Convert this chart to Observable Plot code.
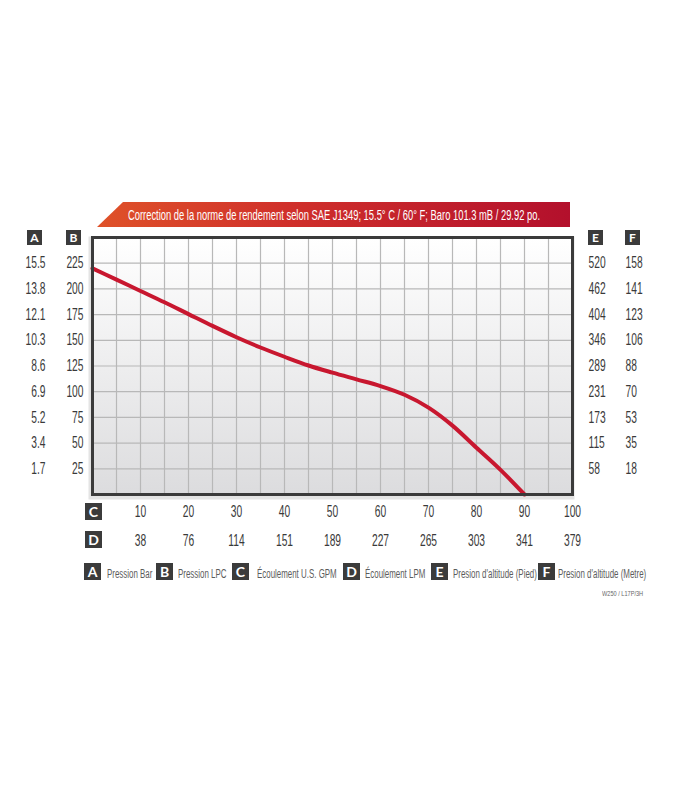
<!DOCTYPE html>
<html>
<head>
<meta charset="utf-8">
<script src="https://cdn.jsdelivr.net/npm/d3@7"></script>
<script src="https://cdn.jsdelivr.net/npm/@observablehq/plot@0.6"></script>
<style>
  html, body { margin: 0; padding: 0; background: #fff; }
  body { width: 700px; height: 800px; position: relative; overflow: hidden; font-family: "Liberation Sans", Arial, sans-serif; }
  #chart { position: absolute; left: 0; top: 0; }
  .banner { position: absolute; left: 97px; top: 202px; width: 473px; height: 25px;
    clip-path: polygon(26px 0, 100% 0, 100% 100%, 0 100%);
    background: linear-gradient(to right, #df5229 0%, #d0302b 40%, #b3102c 100%); }
  .banner span { position: absolute; left: 50%; top: 50%; white-space: nowrap; color: #fff;
    font-size: 14px; line-height: 14px; }
  .key { position: absolute; background: #3b3b3b; color: #fff; font-family: Lato, "Open Sans", sans-serif;
    font-weight: 700; text-align: center; }
  .key.small { width: 15px; height: 15px; line-height: 15px; font-size: 12px; }
  .key.big { width: 17px; height: 17px; line-height: 17px; font-size: 14px; }
  .legtext { position: absolute; top: 568px; font-size: 12px; line-height: 12px; color: #5c5c5c;
    white-space: nowrap; transform-origin: 0 0; transform: scaleX(0.66); }
  .code { position: absolute; top: 590px; left: 643px; font-size: 8px; line-height: 8px; color: #666;
    white-space: nowrap; transform-origin: 100% 0; transform: translateX(-100%) scaleX(0.7); transform-origin: 0 0; }
</style>
</head>
<body>
<div id="chart"></div>
<script>
// ---- data ----
const flowGPM     = [0, 5, 10, 15, 20, 25, 30, 35, 40, 45, 50, 55, 60, 65, 70, 75, 80, 85, 90];
const pressurePSI = [220, 209, 198, 187, 175.5, 164, 153, 143, 134, 125.5, 118.5, 112, 105.5, 97, 84.5, 67, 45.5, 24, 0];

const psiTicks    = [25, 50, 75, 100, 125, 150, 175, 200, 225];          // B : Pression LPC
const barLabels   = ["1.7", "3.4", "5.2", "6.9", "8.6", "10.3", "12.1", "13.8", "15.5"]; // A
const altFtLabels = ["58", "115", "173", "231", "289", "346", "404", "462", "520"];      // E
const altMLabels  = ["18", "35", "53", "70", "88", "106", "123", "141", "158"];         // F
const gpmTicks    = [10, 20, 30, 40, 50, 60, 70, 80, 90, 100];           // C
const lpmLabels   = ["38", "76", "114", "151", "189", "227", "265", "303", "341", "379"]; // D
const gridGPM     = [5, 10, 15, 20, 25, 30, 35, 40, 45, 50, 55, 60, 65, 70, 75, 80, 85, 90, 95];
const gridPSI     = [25, 50, 75, 100, 125, 150, 175, 200, 225];

const title = "Correction de la norme de rendement selon SAE J1349;  15.5° C  / 60° F;  Baro 101.3 mB / 29.92 po.";
const legendKeys  = ["A", "B", "C", "D", "E", "F"];
const legendNames = ["Pression Bar", "Pression LPC", "Écoulement U.S. GPM", "Écoulement LPM", "Presion d'altitude (Pied)", "Presion d'altitude (Metre)"];
const modelCode = "W250 / L17P/3H";

// ---- build ----
const curve = flowGPM.map((g, i) => ({gpm: g, psi: pressurePSI[i]}));
const mapOf = (keys, labels) => new Map(keys.map((k, i) => [k, labels[i]]));
const barMap = mapOf(psiTicks, barLabels), ftMap = mapOf(psiTicks, altFtLabels),
      mMap = mapOf(psiTicks, altMLabels), lpmMap = mapOf(gpmTicks, lpmLabels);

const svg = Plot.plot({
  width: 700, height: 800,
  marginLeft: 92, marginRight: 128, marginTop: 237, marginBottom: 306,
  x: {domain: [0, 100], axis: null},
  y: {domain: [0, 250], axis: null},
  style: {fontFamily: '"Liberation Sans", Arial, sans-serif', fontSize: "16px", color: "#3a3a3a", background: "transparent"},
  marks: [
    Plot.frame({inset: -3, fill: "#e4e4e4", dx: -1, dy: 2}),
    Plot.frame({fill: "url(#plotBg)"}),
    Plot.gridX(gridGPM, {stroke: "#b8b8b8", strokeOpacity: 1, strokeWidth: 1.2}),
    Plot.gridY(gridPSI, {stroke: "#b8b8b8", strokeOpacity: 1, strokeWidth: 1.2}),
    Plot.line(curve, {x: "gpm", y: "psi", curve: "monotone-x", stroke: "#c8172f", strokeWidth: 4}),
    Plot.frame({stroke: "#3b3b3b", strokeWidth: 3}),
    Plot.axisY(psiTicks, {anchor: "left", tickSize: 0, tickPadding: 9, label: null}),
    Plot.axisY(psiTicks, {anchor: "left", tickSize: 0, tickPadding: 47, label: null, tickFormat: d => barMap.get(d)}),
    Plot.axisY(psiTicks, {anchor: "right", tickSize: 0, tickPadding: 16, label: null, tickFormat: d => ftMap.get(d)}),
    Plot.axisY(psiTicks, {anchor: "right", tickSize: 0, tickPadding: 53, label: null, tickFormat: d => mMap.get(d)}),
    Plot.axisX(gpmTicks, {anchor: "bottom", tickSize: 0, tickPadding: 11, label: null}),
    Plot.axisX(gpmTicks, {anchor: "bottom", tickSize: 0, tickPadding: 40, label: null, tickFormat: d => lpmMap.get(d)})
  ]
});

d3.select(svg).insert("defs", ":first-child").html(
  '<linearGradient id="plotBg" x1="0" y1="0" x2="0" y2="1">' +
  '<stop offset="0" stop-color="#ffffff"/><stop offset="1" stop-color="#dcdcde"/></linearGradient>');

// condensed look for tick labels
d3.select(svg).selectAll('g[aria-label$="tick label"] text').each(function() {
  const t = this.getAttribute("transform");
  if (t) this.setAttribute("transform", t + " scale(0.64,1)");
  else {
    const x = +this.getAttribute("x") || 0, y = +this.getAttribute("y") || 0;
    this.removeAttribute("x"); this.removeAttribute("y");
    this.setAttribute("transform", `translate(${x},${y}) scale(0.64,1)`);
  }
});
document.getElementById("chart").appendChild(svg);

// banner
const banner = document.createElement("div");
banner.className = "banner";
const bspan = document.createElement("span");
bspan.textContent = title;
banner.appendChild(bspan);
document.body.appendChild(banner);
const bw = bspan.offsetWidth;
bspan.style.transform = `translate(-50%,-50%) scaleX(${412 / bw})`;

// axis header keys
function key(letter, cls, left, top) {
  const d = document.createElement("div");
  d.className = "key " + cls;
  d.style.left = left + "px"; d.style.top = top + "px";
  d.textContent = letter;
  document.body.appendChild(d);
}
key("A", "small", 27, 230); key("B", "small", 66, 230);
key("E", "small", 588, 230); key("F", "small", 625, 230);
key("C", "big", 85, 503); key("D", "big", 85, 531);

// legend
const keyLefts = [84, 156, 232, 343, 431, 538];
const textLefts = [107, 178, 257, 365, 453, 558];
legendKeys.forEach((k, i) => {
  key(k, "big", keyLefts[i], 563);
  const t = document.createElement("div");
  t.className = "legtext";
  t.style.left = textLefts[i] + "px";
  t.textContent = legendNames[i];
  document.body.appendChild(t);
});
const code = document.createElement("div");
code.className = "code";
code.textContent = modelCode;
document.body.appendChild(code);
const cw = code.offsetWidth;
code.style.left = (643 - cw * 0.7) + "px";
code.style.transform = "scaleX(0.7)";
</script>
</body>
</html>
